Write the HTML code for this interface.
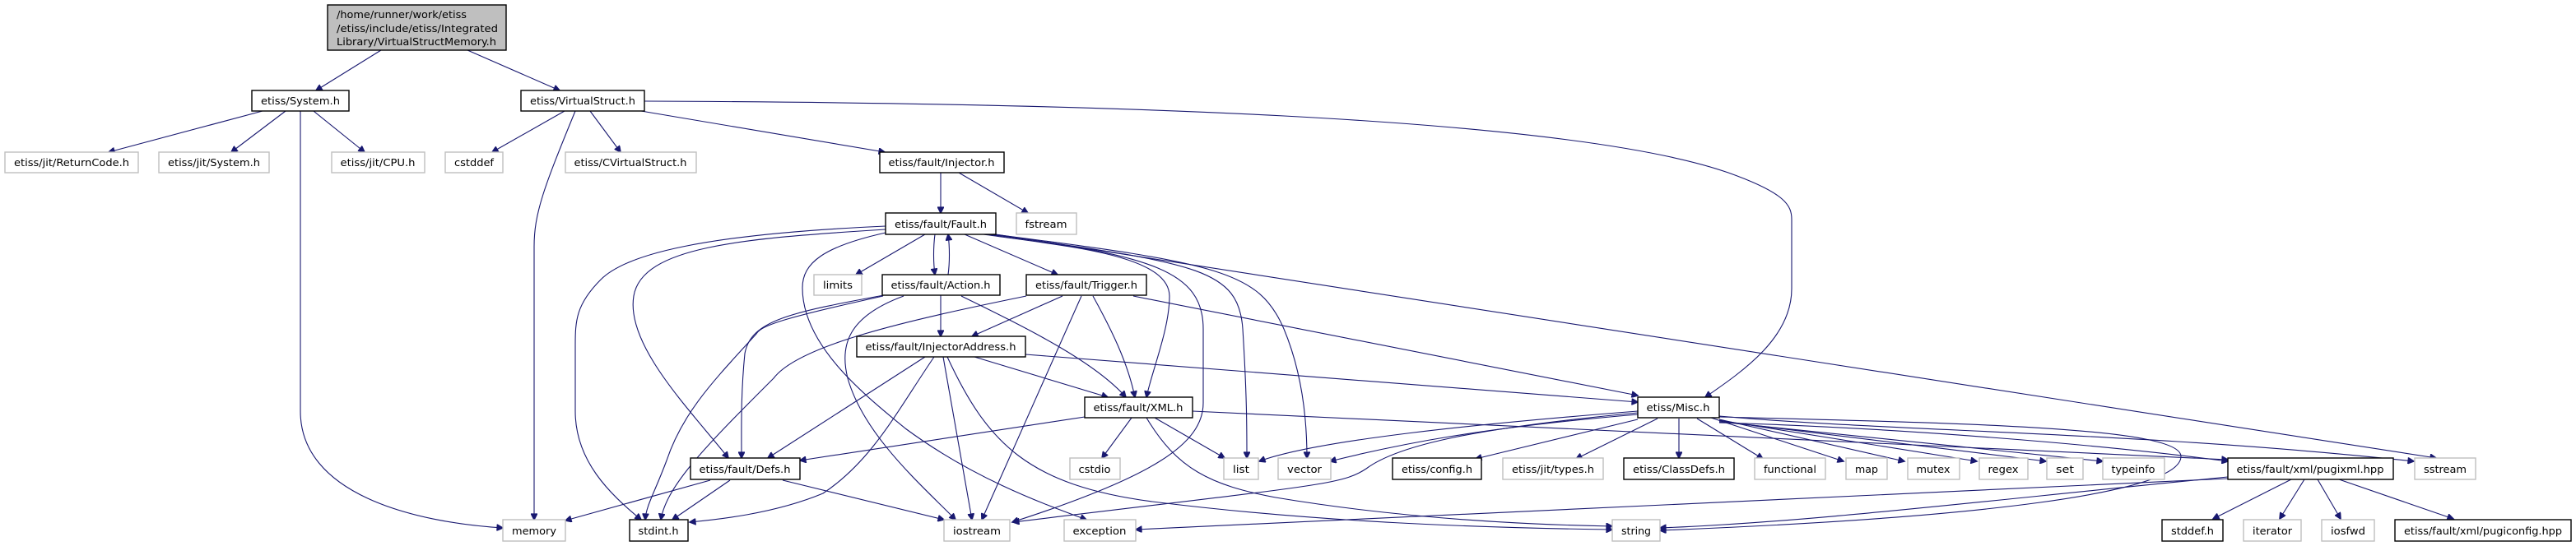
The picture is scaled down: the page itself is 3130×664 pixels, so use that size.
<!DOCTYPE html>
<html><head><meta charset="utf-8"><style>
html,body{margin:0;padding:0;background:#fff;}
svg{display:block;}
text{font-family:"DejaVu Sans Condensed","DejaVu Sans","Liberation Sans",sans-serif;font-size:12.5px;fill:#000;}
.b{fill:#fff;stroke:#000;stroke-width:1.4;}
.g{fill:#fff;stroke:#bfbfbf;stroke-width:1.4;}
.e{fill:none;stroke:#191970;stroke-width:1.1;}
</style></head><body>
<svg width="3130" height="664" viewBox="0 0 3130 664" xmlns="http://www.w3.org/2000/svg">
<defs><marker id="a" viewBox="0 0 10 10" refX="9" refY="5" markerWidth="10" markerHeight="8" markerUnits="userSpaceOnUse" orient="auto"><path d="M0,0 L10,5 L0,10 z" fill="#191970" stroke="#191970"/></marker></defs>
<g class="e" marker-end="url(#a)">
<path d="M463,61 L384,110" marker-end="url(#a)"/>
<path d="M568,61 L680,110" marker-end="url(#a)"/>
<path d="M319,135 L132,185" marker-end="url(#a)"/>
<path d="M347,135 L281,185" marker-end="url(#a)"/>
<path d="M381,135 L443,185" marker-end="url(#a)"/>
<path d="M365,135 L365,500 C365,600 500,635 611,642" marker-end="url(#a)"/>
<path d="M686,135 L598,185" marker-end="url(#a)"/>
<path d="M699,135 C660,230 649,260 649,300 L649,632" marker-end="url(#a)"/>
<path d="M717,135 L754,185" marker-end="url(#a)"/>
<path d="M779,135 L1075,185" marker-end="url(#a)"/>
<path d="M783,123 C1300,125 1900,140 2100,210 C2170,235 2177,250 2177,267 L2177,351 C2177,410 2120,450 2072,483" marker-end="url(#a)"/>
<path d="M1143,210 L1143,259" marker-end="url(#a)"/>
<path d="M1165,210 L1249,259" marker-end="url(#a)"/>
<path d="M1124,285 L1040,334" marker-end="url(#a)"/>
<path d="M1136,285 C1134,300 1134,320 1136,334" marker-end="url(#a)"/>
<path d="M1152,334 C1154,320 1154,300 1152,285" marker-end="url(#a)"/>
<path d="M1172,285 L1285,334" marker-end="url(#a)"/>
<path d="M1195,285 C1300,300 1420,310 1421,360 C1421,400 1400,450 1393,483" marker-end="url(#a)"/>
<path d="M1200,285 C1400,310 1462,330 1462,400 L1462,490 C1462,540 1400,580 1230,635" marker-end="url(#a)"/>
<path d="M1205,285 C1450,320 1505,325 1510,400 C1515,480 1515,520 1515,557" marker-end="url(#a)"/>
<path d="M1208,285 C1480,320 1530,330 1560,400 C1585,460 1588,520 1588,557" marker-end="url(#a)"/>
<path d="M1210,285 L2960,557" marker-end="url(#a)"/>
<path d="M1076,279 C900,290 780,300 770,360 C760,420 840,500 885,557" marker-end="url(#a)"/>
<path d="M1076,275 C850,285 760,310 730,340 C700,370 699,390 699,420 L699,500 C699,560 740,600 779,632" marker-end="url(#a)"/>
<path d="M1076,283 C1000,300 975,320 975,350 C975,420 1050,480 1100,521 C1180,580 1260,610 1320,632" marker-end="url(#a)"/>
<path d="M1143,359 L1143,409" marker-end="url(#a)"/>
<path d="M1074,359 C960,380 912,390 905,430 C900,480 901,520 901,557" marker-end="url(#a)"/>
<path d="M1073,360 C960,385 925,395 919,406 C870,460 830,500 810,560 C795,600 785,615 784,632" marker-end="url(#a)"/>
<path d="M1098,360 C1030,385 1020,420 1030,460 C1050,530 1120,590 1161,632" marker-end="url(#a)"/>
<path d="M1168,360 C1250,400 1330,440 1368,483" marker-end="url(#a)"/>
<path d="M1291,360 L1181,409" marker-end="url(#a)"/>
<path d="M1247,360 C1100,390 970,420 940,460 C860,540 810,590 803,632" marker-end="url(#a)"/>
<path d="M1314,360 L1193,632" marker-end="url(#a)"/>
<path d="M1328,360 C1350,400 1370,440 1379,483" marker-end="url(#a)"/>
<path d="M1377,360 L1990,481" marker-end="url(#a)"/>
<path d="M1246,431 L1990,489" marker-end="url(#a)"/>
<path d="M1184,434 L1346,483" marker-end="url(#a)"/>
<path d="M1146,434 L1181,632" marker-end="url(#a)"/>
<path d="M1151,434 C1200,540 1250,590 1400,610 C1600,635 1800,642 1959,644" marker-end="url(#a)"/>
<path d="M1124,434 L933,557" marker-end="url(#a)"/>
<path d="M1135,434 C1090,500 1060,560 1000,600 C940,625 870,632 838,635" marker-end="url(#a)"/>
<path d="M1318,507 L972,560" marker-end="url(#a)"/>
<path d="M1375,508 L1339,557" marker-end="url(#a)"/>
<path d="M1403,508 L1488,557" marker-end="url(#a)"/>
<path d="M1393,508 C1430,570 1470,590 1550,605 C1700,630 1850,638 1959,640" marker-end="url(#a)"/>
<path d="M1449,500 L2707,559" marker-end="url(#a)"/>
<path d="M1990,500 C1800,515 1600,535 1530,561" marker-end="url(#a)"/>
<path d="M1990,504 C1800,520 1700,540 1616,561" marker-end="url(#a)"/>
<path d="M1990,502 C1800,520 1700,540 1660,570 C1630,590 1600,590 1231,635" marker-end="url(#a)"/>
<path d="M1990,510 L1793,558" marker-end="url(#a)"/>
<path d="M2014,509 L1915,558" marker-end="url(#a)"/>
<path d="M2040,509 L2040,557" marker-end="url(#a)"/>
<path d="M2062,509 L2142,558" marker-end="url(#a)"/>
<path d="M2079,508 L2240,561" marker-end="url(#a)"/>
<path d="M2089,510 L2314,561" marker-end="url(#a)"/>
<path d="M2089,511 L2402,561" marker-end="url(#a)"/>
<path d="M2089,512 L2486,561" marker-end="url(#a)"/>
<path d="M2089,513 L2555,561" marker-end="url(#a)"/>
<path d="M2089,514 C2300,520 2550,540 2707,561" marker-end="url(#a)"/>
<path d="M2089,506 C2300,525 2600,525 2933,561" marker-end="url(#a)"/>
<path d="M2089,507 C2400,515 2650,520 2650,555 C2650,600 2400,630 2017,645" marker-end="url(#a)"/>
<path d="M2707,582 L1380,644" marker-end="url(#a)"/>
<path d="M2707,580 C2400,610 2200,635 2017,642" marker-end="url(#a)"/>
<path d="M2784,583 L2689,631" marker-end="url(#a)"/>
<path d="M2800,583 L2770,631" marker-end="url(#a)"/>
<path d="M2816,583 L2844,631" marker-end="url(#a)"/>
<path d="M2842,583 L2981,631" marker-end="url(#a)"/>
<path d="M863,584 L687,633" marker-end="url(#a)"/>
<path d="M887,584 L817,632" marker-end="url(#a)"/>
<path d="M951,584 L1147,632" marker-end="url(#a)"/>
</g>
<rect x="398" y="6" width="217" height="55" fill="#bfbfbf" stroke="#000" stroke-width="1.4"/>
<text x="409" y="22" textLength="158" lengthAdjust="spacingAndGlyphs">/home/runner/work/etiss</text>
<text x="409" y="39" textLength="196" lengthAdjust="spacingAndGlyphs">/etiss/include/etiss/Integrated</text>
<text x="409" y="55" textLength="194" lengthAdjust="spacingAndGlyphs">Library/VirtualStructMemory.h</text>
<g text-anchor="middle">
<rect class="b" x="306" y="110" width="118" height="25"/><text x="365" y="127" textLength="96" lengthAdjust="spacingAndGlyphs">etiss/System.h</text>
<rect class="b" x="633" y="110" width="150" height="25"/><text x="708" y="127" textLength="128" lengthAdjust="spacingAndGlyphs">etiss/VirtualStruct.h</text>
<rect class="g" x="6" y="185" width="162" height="25"/><text x="87" y="202" textLength="140" lengthAdjust="spacingAndGlyphs">etiss/jit/ReturnCode.h</text>
<rect class="g" x="193" y="185" width="134" height="25"/><text x="260" y="202" textLength="112" lengthAdjust="spacingAndGlyphs">etiss/jit/System.h</text>
<rect class="g" x="403" y="185" width="113" height="25"/><text x="459" y="202" textLength="91" lengthAdjust="spacingAndGlyphs">etiss/jit/CPU.h</text>
<rect class="g" x="541" y="185" width="70" height="25"/><text x="576" y="202" textLength="48" lengthAdjust="spacingAndGlyphs">cstddef</text>
<rect class="g" x="687" y="185" width="159" height="25"/><text x="766" y="202" textLength="137" lengthAdjust="spacingAndGlyphs">etiss/CVirtualStruct.h</text>
<rect class="b" x="1069" y="185" width="151" height="25"/><text x="1144" y="202" textLength="129" lengthAdjust="spacingAndGlyphs">etiss/fault/Injector.h</text>
<rect class="b" x="1076" y="259" width="134" height="26"/><text x="1143" y="277" textLength="112" lengthAdjust="spacingAndGlyphs">etiss/fault/Fault.h</text>
<rect class="g" x="1235" y="259" width="73" height="26"/><text x="1271" y="277" textLength="51" lengthAdjust="spacingAndGlyphs">fstream</text>
<rect class="g" x="989" y="334" width="58" height="25"/><text x="1018" y="351" textLength="36" lengthAdjust="spacingAndGlyphs">limits</text>
<rect class="b" x="1072" y="334" width="143" height="25"/><text x="1143" y="351" textLength="121" lengthAdjust="spacingAndGlyphs">etiss/fault/Action.h</text>
<rect class="b" x="1247" y="334" width="146" height="25"/><text x="1320" y="351" textLength="124" lengthAdjust="spacingAndGlyphs">etiss/fault/Trigger.h</text>
<rect class="b" x="1041" y="409" width="205" height="25"/><text x="1143" y="426" textLength="183" lengthAdjust="spacingAndGlyphs">etiss/fault/InjectorAddress.h</text>
<rect class="b" x="1318" y="483" width="131" height="25"/><text x="1383" y="500" textLength="109" lengthAdjust="spacingAndGlyphs">etiss/fault/XML.h</text>
<rect class="b" x="1990" y="483" width="99" height="25"/><text x="2039" y="500" textLength="77" lengthAdjust="spacingAndGlyphs">etiss/Misc.h</text>
<rect class="b" x="839" y="557" width="133" height="26"/><text x="905" y="575" textLength="111" lengthAdjust="spacingAndGlyphs">etiss/fault/Defs.h</text>
<rect class="g" x="1300" y="557" width="61" height="26"/><text x="1330" y="575" textLength="39" lengthAdjust="spacingAndGlyphs">cstdio</text>
<rect class="g" x="1487" y="557" width="42" height="26"/><text x="1508" y="575" textLength="20" lengthAdjust="spacingAndGlyphs">list</text>
<rect class="g" x="1553" y="557" width="64" height="26"/><text x="1585" y="575" textLength="42" lengthAdjust="spacingAndGlyphs">vector</text>
<rect class="b" x="1692" y="557" width="108" height="26"/><text x="1746" y="575" textLength="86" lengthAdjust="spacingAndGlyphs">etiss/config.h</text>
<rect class="g" x="1826" y="557" width="122" height="26"/><text x="1887" y="575" textLength="100" lengthAdjust="spacingAndGlyphs">etiss/jit/types.h</text>
<rect class="b" x="1973" y="557" width="134" height="26"/><text x="2040" y="575" textLength="112" lengthAdjust="spacingAndGlyphs">etiss/ClassDefs.h</text>
<rect class="g" x="2132" y="557" width="86" height="26"/><text x="2175" y="575" textLength="64" lengthAdjust="spacingAndGlyphs">functional</text>
<rect class="g" x="2243" y="557" width="50" height="26"/><text x="2268" y="575" textLength="28" lengthAdjust="spacingAndGlyphs">map</text>
<rect class="g" x="2318" y="557" width="63" height="26"/><text x="2349" y="575" textLength="41" lengthAdjust="spacingAndGlyphs">mutex</text>
<rect class="g" x="2405" y="557" width="59" height="26"/><text x="2434" y="575" textLength="37" lengthAdjust="spacingAndGlyphs">regex</text>
<rect class="g" x="2487" y="557" width="44" height="26"/><text x="2509" y="575" textLength="22" lengthAdjust="spacingAndGlyphs">set</text>
<rect class="g" x="2555" y="557" width="75" height="26"/><text x="2592" y="575" textLength="53" lengthAdjust="spacingAndGlyphs">typeinfo</text>
<rect class="b" x="2707" y="557" width="201" height="26"/><text x="2807" y="575" textLength="179" lengthAdjust="spacingAndGlyphs">etiss/fault/xml/pugixml.hpp</text>
<rect class="g" x="2934" y="557" width="74" height="26"/><text x="2971" y="575" textLength="52" lengthAdjust="spacingAndGlyphs">sstream</text>
<rect class="g" x="611" y="632" width="76" height="26"/><text x="649" y="650" textLength="54" lengthAdjust="spacingAndGlyphs">memory</text>
<rect class="b" x="765" y="632" width="71" height="26"/><text x="800" y="650" textLength="49" lengthAdjust="spacingAndGlyphs">stdint.h</text>
<rect class="g" x="1147" y="632" width="80" height="26"/><text x="1187" y="650" textLength="58" lengthAdjust="spacingAndGlyphs">iostream</text>
<rect class="g" x="1293" y="632" width="87" height="26"/><text x="1336" y="650" textLength="65" lengthAdjust="spacingAndGlyphs">exception</text>
<rect class="g" x="1959" y="632" width="58" height="26"/><text x="1988" y="650" textLength="36" lengthAdjust="spacingAndGlyphs">string</text>
<rect class="b" x="2627" y="632" width="74" height="26"/><text x="2664" y="650" textLength="52" lengthAdjust="spacingAndGlyphs">stddef.h</text>
<rect class="g" x="2726" y="632" width="70" height="26"/><text x="2761" y="650" textLength="48" lengthAdjust="spacingAndGlyphs">iterator</text>
<rect class="g" x="2821" y="632" width="64" height="26"/><text x="2853" y="650" textLength="42" lengthAdjust="spacingAndGlyphs">iosfwd</text>
<rect class="b" x="2910" y="632" width="214" height="26"/><text x="3017" y="650" textLength="192" lengthAdjust="spacingAndGlyphs">etiss/fault/xml/pugiconfig.hpp</text>
</g>
</svg>
</body></html>
